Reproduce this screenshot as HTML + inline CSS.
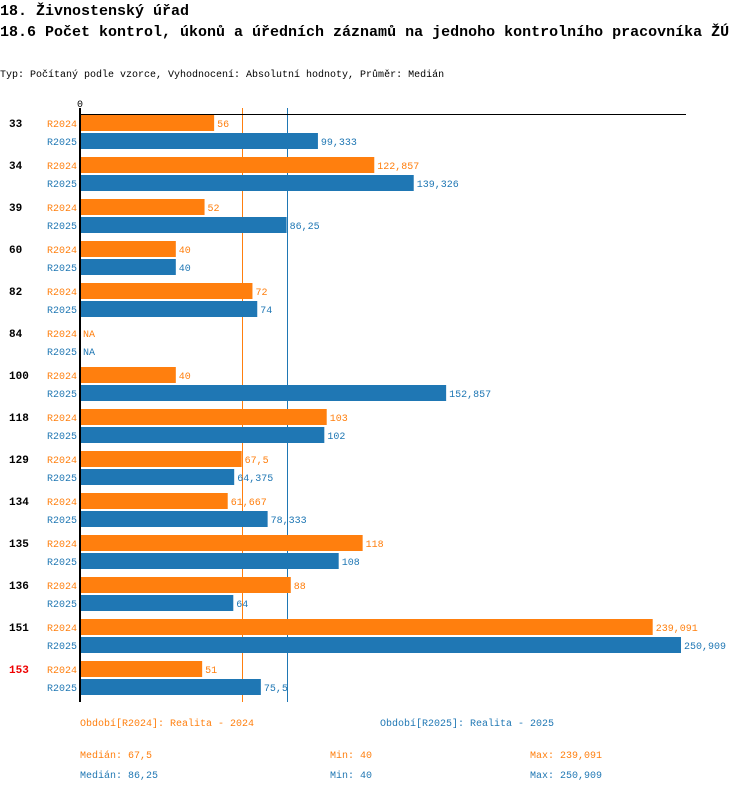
<!DOCTYPE html>
<html><head><meta charset="utf-8"><style>
body{margin:0;background:#fff;width:750px;height:792px;overflow:hidden;font-family:"Liberation Mono","DejaVu Sans Mono",monospace}
svg text{font-family:"Liberation Mono","DejaVu Sans Mono",monospace}
</style></head><body>
<svg id="c" width="750" height="792" xmlns="http://www.w3.org/2000/svg">
<text x="0" y="15" font-size="15" font-weight="bold">18. Živnostenský úřad</text>
<text x="0" y="36" font-size="15" font-weight="bold">18.6 Počet kontrol, úkonů a úředních záznamů na jednoho kontrolního pracovníka ŽÚ</text>
<text x="0" y="77" font-size="10">Typ: Počítaný podle vzorce, Vyhodnocení: Absolutní hodnoty, Průměr: Medián</text>
<text x="80" y="107" font-size="10" text-anchor="middle">0</text>
<g id="g"></g>
</svg>
<script>
const categories=["33","34","39","60","82","84","100","118","129","134","135","136","151","153"];
const r2024=[56,122.857,52,40,72,null,40,103,67.5,61.667,118,88,239.091,51];
const r2025=[99.333,139.326,86.25,40,74,null,152.857,102,64.375,78.333,108,64,250.909,75.5];
const medians=[67.5,86.25];
const mins=[40,40];
const maxs=[239.091,250.909];
const NS="http://www.w3.org/2000/svg";
const g=document.getElementById('g');
const X0=80,SC=(681-80)/250.909;
const x=v=>X0+v*SC;
const C=["#ff7f0e","#1f77b4"];
const fmt=v=>String(v).replace('.',',');
function el(t,a,txt){const e=document.createElementNS(NS,t);for(const k in a)e.setAttribute(k,a[k]);if(txt!=null)e.textContent=txt;g.appendChild(e);return e;}
let e;
medians.forEach((m,j)=>{
  const xm=Math.round(x(m))+0.5;
  e=el('line',{x1:xm,y1:108,x2:xm,y2:702,stroke:C[j],'stroke-width':1});
  
  
});
e=el('line',{x1:80,y1:114.5,x2:686,y2:114.5,stroke:'#000','stroke-width':1});


categories.forEach((c,i)=>{
  const y=115+i*42;
  e=el('text',{x:9,y:y+12,'font-size':11,'font-weight':'bold',fill:c==='153'?'#e00':'#000'},c);
  
  
  [r2024,r2025].forEach((s,j)=>{
    const yy=y+j*18;
    e=el('text',{x:47,y:yy+12,'font-size':10,fill:C[j]},j?'R2025':'R2024');
    
    
    const v=s[i];
    if(v!=null){
      e=el('rect',{x:X0,y:yy,width:x(v)-X0,height:16,fill:C[j]});
      
      
    }
    e=el('text',{x:(v==null?X0:x(v))+3,y:yy+12,'font-size':10,fill:C[j]},v==null?'NA':fmt(v));
    
    
  });
});
e=el('line',{x1:80,y1:108,x2:80,y2:702,stroke:'#000','stroke-width':2});


[['Období[R2024]: Realita - 2024',80],['Období[R2025]: Realita - 2025',380]].forEach((l,j)=>{
  e=el('text',{x:l[1],y:726,'font-size':10,fill:C[j]},l[0]);
  
  
});
[0,1].forEach(j=>{
  const y=758+j*20;
  e=el('text',{x:80,y:y,'font-size':10,fill:C[j]},'Medián: '+fmt(medians[j]));
  
  
  e=el('text',{x:330,y:y,'font-size':10,fill:C[j]},'Min: '+fmt(mins[j]));
  
  
  e=el('text',{x:530,y:y,'font-size':10,fill:C[j]},'Max: '+fmt(maxs[j]));
  
  
});
</script>
</body></html>
